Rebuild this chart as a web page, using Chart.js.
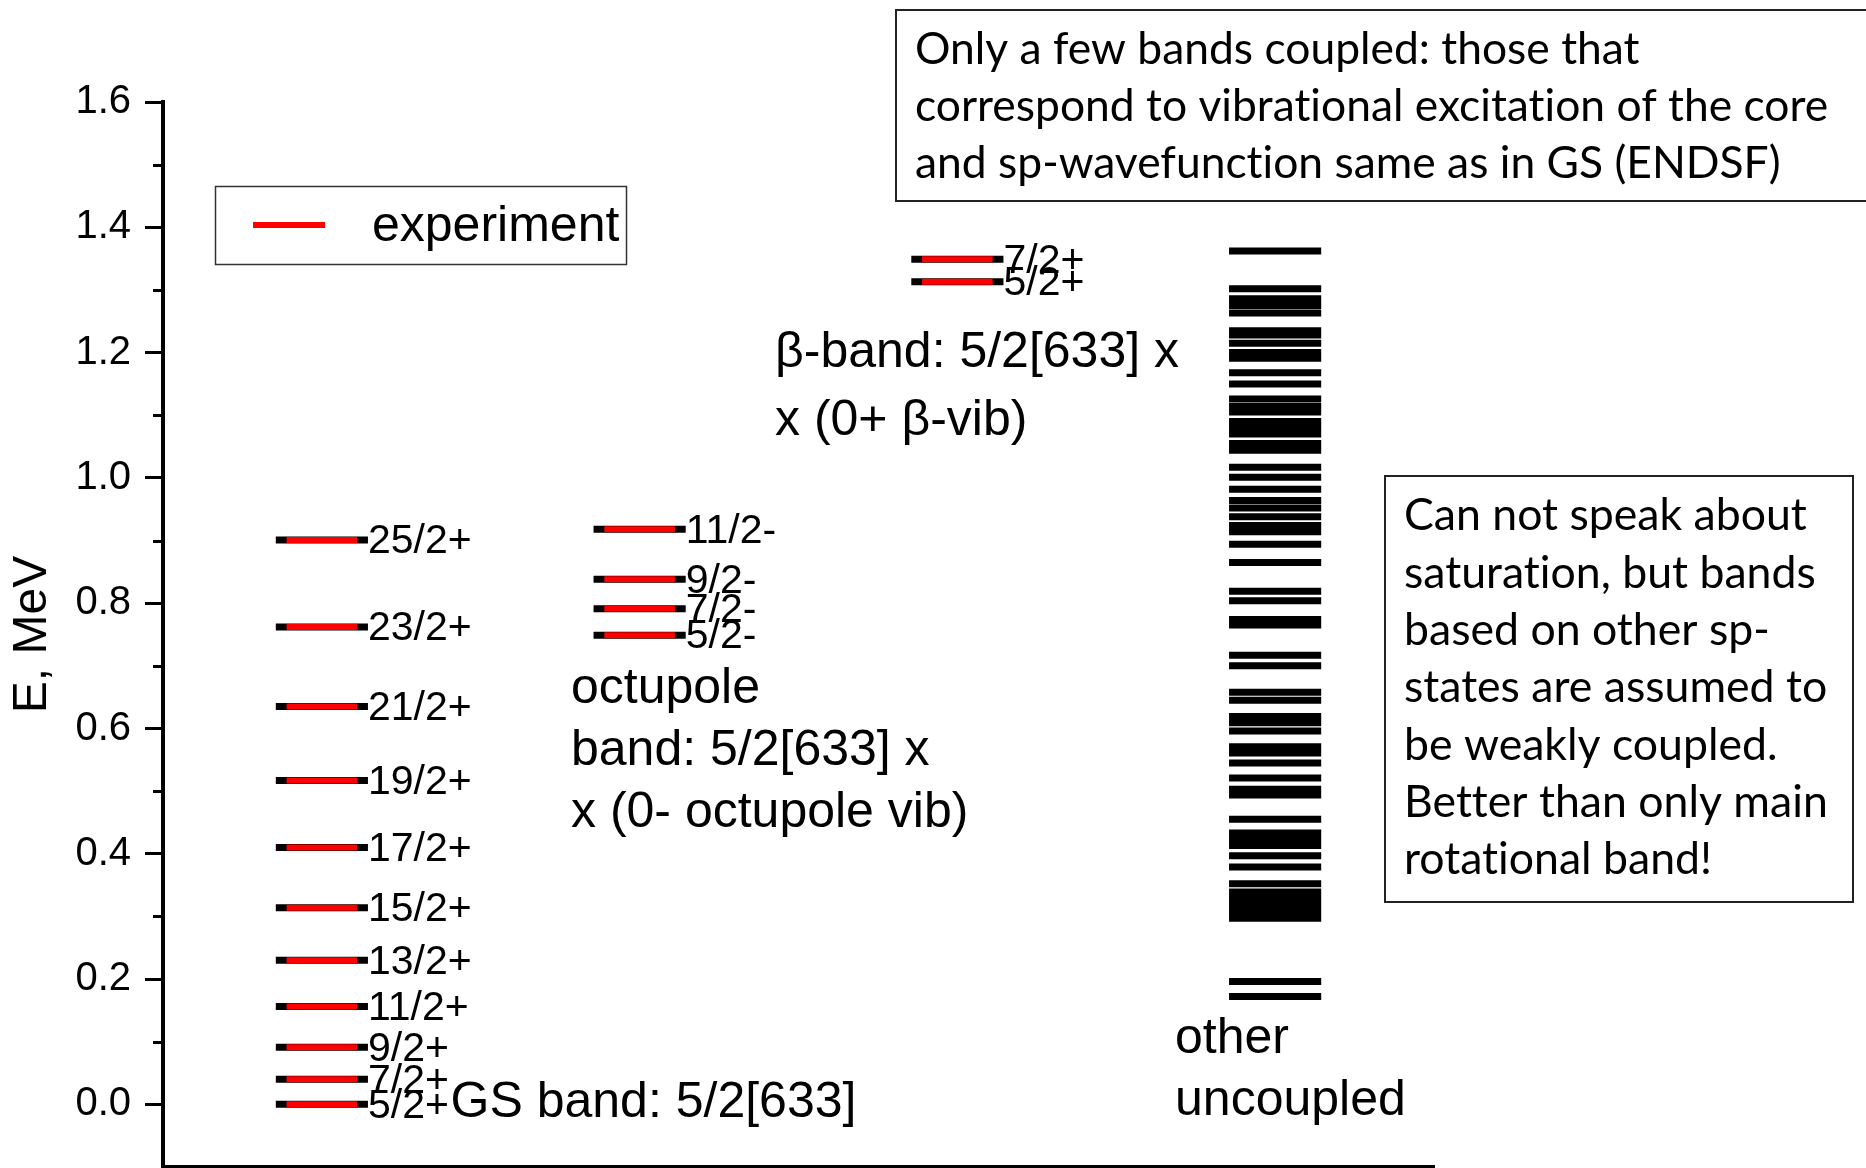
<!DOCTYPE html>
<html>
<head>
<meta charset="utf-8">
<script src="https://cdn.jsdelivr.net/npm/chart.js@4/dist/chart.umd.min.js"></script>
<style>
  html, body { margin: 0; padding: 0; background: #ffffff; }
  #wrap { position: relative; width: 1866px; height: 1168px; }
</style>
</head>
<body>
<div id="wrap"><canvas id="chart"></canvas></div>
<script>
// ---------------- data ----------------
const gsSpins = ['5/2+','7/2+','9/2+','11/2+','13/2+','15/2+','17/2+','19/2+','21/2+','23/2+','25/2+'];
const gsEnergies = [0.000, 0.040, 0.091, 0.156, 0.230, 0.314, 0.410, 0.517, 0.635, 0.762, 0.901];

const octSpins = ['5/2-','7/2-','9/2-','11/2-'];
const octEnergies = [0.749, 0.791, 0.838, 0.918];

const betaSpins = ['5/2+','7/2+'];
const betaEnergies = [1.313, 1.349];

const uncoupledEnergies = [
  1.362, 1.302, 1.286, 1.275, 1.263, 1.235, 1.228, 1.215, 1.200, 1.191,
  1.168, 1.150, 1.126, 1.114, 1.105, 1.090, 1.080, 1.070, 1.055, 1.044,
  1.017, 1.001, 0.982, 0.964, 0.952, 0.938, 0.924, 0.914, 0.894, 0.865,
  0.819, 0.804, 0.774, 0.765, 0.717, 0.700, 0.658, 0.645, 0.619, 0.609,
  0.596, 0.571, 0.561, 0.545, 0.521, 0.503, 0.494, 0.455, 0.433, 0.422,
  0.413, 0.397, 0.379, 0.352, 0.339, 0.329, 0.318, 0.307, 0.297, 0.196,
  0.172
];

const yTickValues = [0.0, 0.2, 0.4, 0.6, 0.8, 1.0, 1.2, 1.4, 1.6];
const yMinorTickValues = [0.1, 0.3, 0.5, 0.7, 0.9, 1.1, 1.3, 1.5];

const legendLabel = 'experiment';
const yAxisTitle = 'E, MeV';
const gsBandText = ['GS band: 5/2[633]'];
const octBandText = ['octupole', 'band: 5/2[633] x', 'x (0- octupole vib)'];
const betaBandText = ['\u03B2-band: 5/2[633] x', 'x (0+ \u03B2-vib)'];
const otherText = ['other', 'uncoupled'];
const noteTopLines = [
  'Only a few bands coupled: those that',
  'correspond to vibrational excitation of the core',
  'and sp-wavefunction same as in GS (ENDSF)'
];
const noteRightLines = [
  'Can not speak about',
  'saturation, but bands',
  'based on other sp-',
  'states are assumed to',
  'be weakly coupled.',
  'Better than only main',
  'rotational band!'
];

// ---------------- layout / style ----------------
const SANS = "'Liberation Sans', Arial, Helvetica, sans-serif";
const NOTE_FONT = "Lato, 'Open Sans', sans-serif";
const HALF_BLACK = 0.145;
const HALF_RED = 0.111;

const coupledBands = [
  { column: 0, energies: gsEnergies, spins: gsSpins },
  { column: 1, energies: octEnergies, spins: octSpins },
  { column: 2, energies: betaEnergies, spins: betaSpins }
];
const uncoupledColumn = 3;

function levelSegments(column, energies, half) {
  const pts = [];
  for (const e of energies) {
    pts.push({ x: column + 0.5 - half, y: e });
    pts.push({ x: column + 0.5 + half, y: e });
    pts.push({ x: column + 0.5, y: null });
  }
  return pts;
}

const annotationBlocks = [
  { lines: gsBandText,   x: 0.905, y: 0.002, gap: 0,  size: 50 },
  { lines: octBandText,  x: 1.284, y: 0.662, gap: 62, size: 50 },
  { lines: betaBandText, x: 1.926, y: 1.199, gap: 68, size: 50 },
  { lines: otherText,    x: 3.185, y: 0.104, gap: 62, size: 50 }
];

// ---------------- plugins ----------------
const minorTicksPlugin = {
  id: 'minorTicks',
  afterDraw(chart) {
    const y = chart.scales.y, ctx = chart.ctx;
    const x0 = chart.chartArea.left;
    ctx.save();
    ctx.strokeStyle = '#000';
    ctx.lineWidth = 3;
    for (const v of yMinorTickValues) {
      const py = Math.round(y.getPixelForValue(v)) + 0.5;
      ctx.beginPath();
      ctx.moveTo(x0 - 10, py);
      ctx.lineTo(x0, py);
      ctx.stroke();
    }
    ctx.restore();
  }
};

const levelLabelsPlugin = {
  id: 'levelLabels',
  afterDatasetsDraw(chart) {
    const xs = chart.scales.x, ys = chart.scales.y, ctx = chart.ctx;
    ctx.save();
    ctx.fillStyle = '#000';
    ctx.font = '41px ' + SANS;
    ctx.textAlign = 'left';
    ctx.textBaseline = 'middle';
    for (const band of coupledBands) {
      const px = xs.getPixelForValue(band.column + 0.5 + HALF_BLACK);
      band.energies.forEach((e, i) => {
        ctx.fillText(band.spins[i], px, ys.getPixelForValue(e) + 2);
      });
    }
    ctx.font = '50px ' + SANS;
    for (const a of annotationBlocks) {
      const px = xs.getPixelForValue(a.x);
      const py = ys.getPixelForValue(a.y);
      a.lines.forEach((t, i) => ctx.fillText(t, px, py + i * a.gap));
    }
    ctx.restore();
  }
};

function drawNote(ctx, lines, box, textX, firstY, gap, fitLine, fitWidth) {
  ctx.save();
  try { ctx.textRendering = 'optimizeSpeed'; } catch (e) {}
  ctx.strokeStyle = '#222';
  ctx.lineWidth = 2;
  ctx.fillStyle = '#fff';
  ctx.fillRect(box.x, box.y, box.w, box.h);
  ctx.strokeRect(box.x, box.y, box.w, box.h);
  ctx.font = '100px ' + NOTE_FONT;
  const w = ctx.measureText(lines[fitLine]).width;
  const size = 100 * fitWidth / w;
  ctx.font = size.toFixed(1) + 'px ' + NOTE_FONT;
  ctx.fillStyle = '#000';
  ctx.textAlign = 'left';
  ctx.textBaseline = 'middle';
  lines.forEach((t, i) => ctx.fillText(t, textX, firstY + i * gap));
  ctx.restore();
}

const notesPlugin = {
  id: 'notes',
  afterDraw(chart) {
    const ctx = chart.ctx;
    drawNote(ctx, noteTopLines, { x: 896, y: 10, w: 1000, h: 191 }, 915, 50, 57, 1, 914);
    drawNote(ctx, noteRightLines, { x: 1385, y: 476, w: 468, h: 426 }, 1404, 516, 57.3, 3, 423);
  }
};

const legendBoxPlugin = {
  id: 'legendBox',
  afterDraw(chart) {
    const ctx = chart.ctx;
    const ds = chart.data.datasets[0];
    ctx.save();
    ctx.strokeStyle = '#333';
    ctx.lineWidth = 1.5;
    ctx.strokeRect(215.5, 186.5, 411, 78);
    ctx.strokeStyle = ds.borderColor;
    ctx.lineWidth = 6;
    ctx.beginPath();
    ctx.moveTo(253, 225);
    ctx.lineTo(325, 225);
    ctx.stroke();
    ctx.fillStyle = '#000';
    ctx.font = '50px ' + SANS;
    ctx.textAlign = 'left';
    ctx.textBaseline = 'middle';
    ctx.fillText(ds.label, 372, 227);
    ctx.restore();
  }
};

// ---------------- chart ----------------
const lineStyle = { pointRadius: 0, pointHoverRadius: 0, borderCapStyle: 'butt', spanGaps: false, tension: 0, fill: false };

new Chart(document.getElementById('chart'), {
  type: 'line',
  data: {
    datasets: [
      Object.assign({ label: legendLabel, data: coupledBands.flatMap(b => levelSegments(b.column, b.energies, HALF_RED)),
        borderColor: '#ff0000', borderWidth: 6 }, lineStyle),
      Object.assign({ label: 'theory', data: coupledBands.flatMap(b => levelSegments(b.column, b.energies, HALF_BLACK)),
        borderColor: '#000000', borderWidth: 7 }, lineStyle),
      Object.assign({ label: 'other uncoupled', data: levelSegments(uncoupledColumn, uncoupledEnergies, HALF_BLACK),
        borderColor: '#000000', borderWidth: 7 }, lineStyle)
    ]
  },
  options: {
    responsive: true,
    maintainAspectRatio: false,
    animation: false,
    events: [],
    layout: { padding: { left: 0, top: 102, right: 432, bottom: 1 } },
    plugins: { legend: { display: false }, tooltip: { enabled: false } },
    scales: {
      x: {
        type: 'linear', min: 0, max: 4,
        ticks: { display: false },
        grid: { display: false, drawTicks: false },
        border: { display: true, color: '#000', width: 4 },
        afterFit: (scale) => { scale.height = 0; scale.paddingLeft = 0; scale.paddingRight = 0; }
      },
      y: {
        type: 'linear', min: -0.1, max: 1.6,
        afterBuildTicks: (scale) => { scale.ticks = yTickValues.map(v => ({ value: v })); },
        afterFit: (scale) => { scale.width = 163; scale.paddingBottom = 0; scale.paddingTop = 0; },
        ticks: {
          color: '#000', padding: 14,
          font: { family: SANS, size: 40 },
          callback: (v) => Number(v).toFixed(1)
        },
        grid: { display: true, drawOnChartArea: false, drawTicks: true, tickLength: 18, tickWidth: 3, tickColor: '#000' },
        border: { display: true, color: '#000', width: 4 },
        title: { display: true, text: yAxisTitle, color: '#000', font: { family: SANS, size: 48 }, padding: { top: 4, bottom: 0 } }
      }
    }
  },
  plugins: [minorTicksPlugin, levelLabelsPlugin, legendBoxPlugin, notesPlugin]
});
</script>
</body>
</html>
